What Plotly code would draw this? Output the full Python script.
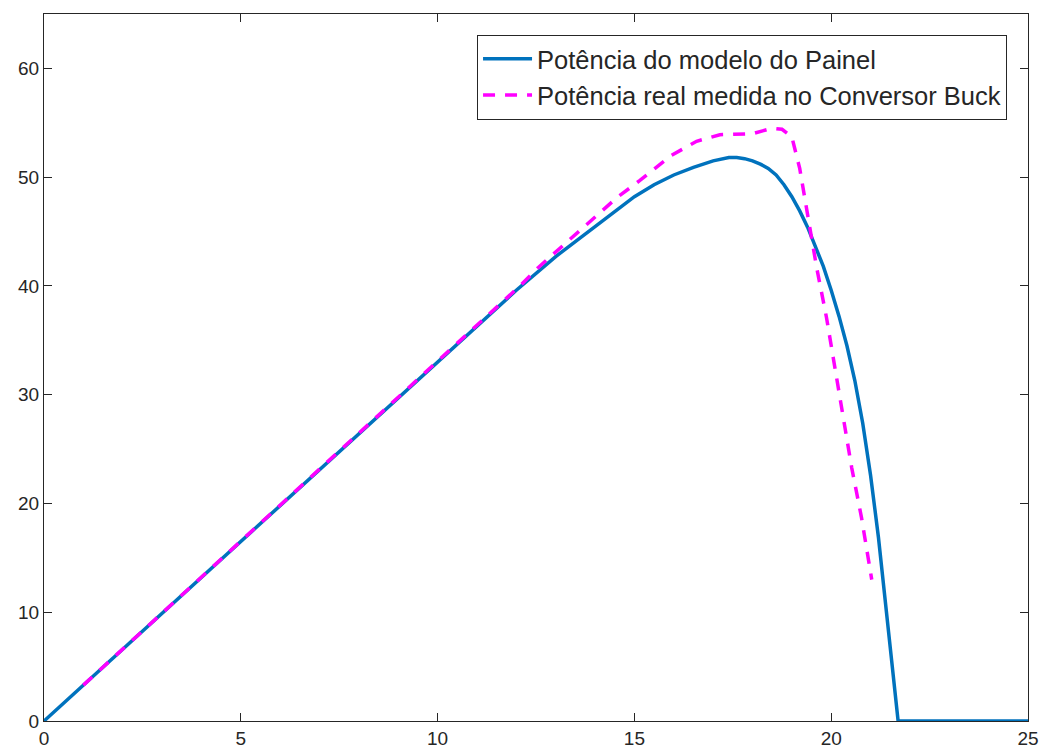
import plotly.graph_objects as go

# Potência do modelo do Painel
x_model = [0, 1, 2, 3, 4, 5, 6, 7, 8, 9, 10, 11, 12, 13, 14, 14.5, 15, 15.5, 16, 16.5, 17,
           17.4, 17.6, 17.8, 18.0, 18.2, 18.4, 18.6, 18.8, 19.0, 19.2, 19.4, 19.6, 19.8,
           20.0, 20.2, 20.4, 20.6, 20.8, 21.0, 21.2, 21.4, 21.6, 21.7, 25]
y_model = [0, 3.3, 6.6, 9.9, 13.2, 16.5, 19.8, 23.1, 26.4, 29.7, 33.0, 36.3, 39.6, 42.7,
           45.5, 46.9, 48.2, 49.3, 50.2, 50.9, 51.5, 51.8, 51.8, 51.7, 51.5, 51.2, 50.8,
           50.2, 49.3, 48.2, 46.9, 45.4, 43.7, 41.8, 39.6, 37.2, 34.5, 31.3, 27.4, 22.6,
           16.9, 10.3, 3.3, 0, 0]

# Potência real medida no Conversor Buck
x_meas = [1.0, 2, 3, 4, 5, 6, 7, 8, 9, 10, 10.65, 11.58, 12.09, 12.56, 13.06, 13.57, 14.04,
          14.55, 15.14, 15.94, 16.58, 17.17, 18.0, 18.5, 18.75, 19.0, 19.2, 19.41, 19.63,
          19.88, 20.09, 20.3, 20.52, 20.77, 20.98, 21.03]
y_meas = [3.3, 6.6, 9.9, 13.2, 16.5, 19.8, 23.1, 26.4, 29.7, 33.1, 35.2, 38.3, 40.0, 41.7,
          43.3, 44.9, 46.4, 48.1, 49.7, 52.0, 53.3, 53.9, 54.0, 54.5, 54.4, 53.7, 50.8,
          46.2, 41.7, 37.1, 32.5, 27.9, 23.3, 18.7, 14.1, 13.0]

x_ticks = [0, 5, 10, 15, 20, 25]
y_ticks = [0, 10, 20, 30, 40, 50, 60]

axis_col = "#262626"

fig = go.Figure()
fig.add_trace(go.Scatter(x=x_model, y=y_model, mode="lines",
                         name="Potência do modelo do Painel",
                         line=dict(color="#0072BD", width=3.5)))
fig.add_trace(go.Scatter(x=x_meas, y=y_meas, mode="lines",
                         name="Potência real medida no Conversor Buck",
                         line=dict(color="#FF00FF", width=3.5, dash="12px,10px")))

fig.update_layout(
    width=1043, height=751,
    margin=dict(l=44, r=15, t=14, b=30, autoexpand=False),
    plot_bgcolor="white", paper_bgcolor="white",
    font=dict(family="Liberation Sans, Arial, sans-serif", size=19, color=axis_col),
    showlegend=True,
    legend=dict(x=0.9787, y=0.9707, xanchor="right", yanchor="top",
                bgcolor="white", bordercolor=axis_col, borderwidth=1,
                itemwidth=49,
                font=dict(size=25.5, color=axis_col), tracegroupgap=0),
)
fig.update_xaxes(range=[0, 25], tickvals=x_ticks, ticks="inside", ticklen=8,
                 tickcolor=axis_col, showline=True, linecolor=axis_col, linewidth=1,
                 mirror="ticks", showgrid=False, zeroline=False, automargin=False)
fig.update_yaxes(range=[0, 65], tickvals=y_ticks, ticks="inside", ticklen=8,
                 tickcolor=axis_col, showline=True, linecolor=axis_col, linewidth=1,
                 mirror="ticks", showgrid=False, zeroline=False, automargin=False)

fig.write_html("out.html")
